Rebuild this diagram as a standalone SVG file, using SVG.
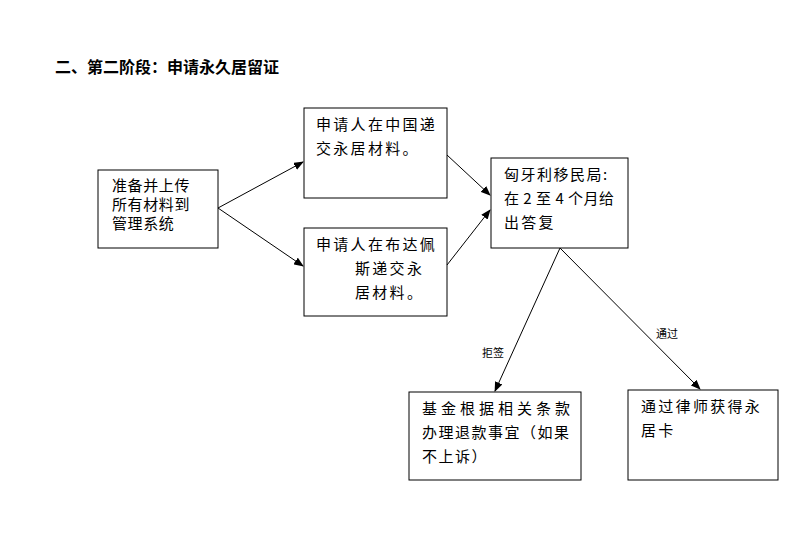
<svg xmlns="http://www.w3.org/2000/svg" width="806" height="551" viewBox="0 0 806 551">
<style>
.b{fill:#fff;stroke:#000;stroke-width:1}
.t{font-family:"Noto Sans CJK SC","Liberation Sans",sans-serif;font-size:15px;fill:#000;letter-spacing:2.3px}
.s{font-family:"Noto Sans CJK SC",sans-serif;font-size:11px;fill:#000}
.c{stroke:#000;stroke-width:1;fill:none;marker-end:url(#a)}
</style>
<defs><marker id="a" markerWidth="10" markerHeight="8" refX="9" refY="4" orient="auto" markerUnits="userSpaceOnUse"><path d="M0,0 L10,4 L0,8 z" fill="#000"/></marker></defs>
<rect width="806" height="551" fill="#fff"/>
<text x="55" y="73" font-family="Noto Sans CJK SC,sans-serif" font-size="16" font-weight="bold">二、第二阶段：申请永久居留证</text>
<g id="n1"><rect class="b" x="98" y="170" width="120" height="78"/><text class="t" x="112" y="191" style="letter-spacing:0.6px">准备并上传</text><text class="t" x="112" y="210" style="letter-spacing:0.6px">所有材料到</text><text class="t" x="112" y="229" style="letter-spacing:0.6px">管理系统</text></g>
<g id="n2"><rect class="b" x="304" y="108" width="143" height="90"/><text class="t" x="316" y="130">申请人在中国递</text><text class="t" x="316" y="154">交永居材料。</text></g>
<g id="n3"><rect class="b" x="304" y="228" width="143" height="88"/><text class="t" x="316" y="250">申请人在布达佩</text><text class="t" x="355" y="274">斯递交永</text><text class="t" x="355" y="298">居材料。</text></g>
<g id="n4"><rect class="b" x="491" y="158" width="137" height="90"/><text class="t" x="504" y="180" style="letter-spacing:1.5px">匈牙利移民局:</text><text class="t" x="504" y="204" style="letter-spacing:0.5px">在 2 至 4 个月给</text><text class="t" x="504" y="228">出答复</text></g>
<g id="n5"><rect class="b" x="409" y="392" width="172" height="88"/><text class="t" x="422" y="414" style="letter-spacing:4px">基金根据相关条款</text><text class="t" x="422" y="438" style="letter-spacing:1.5px">办理退款事宜（如果</text><text class="t" x="422" y="462" style="letter-spacing:1.5px">不上诉）</text></g>
<g id="n6"><rect class="b" x="628" y="390" width="150" height="90"/><text class="t" x="641" y="412">通过律师获得永</text><text class="t" x="641" y="436">居卡</text></g>
<g id="edges">
<line class="c" x1="218" y1="208" x2="303" y2="162"/>
<line class="c" x1="218" y1="208" x2="303" y2="266"/>
<line class="c" x1="447" y1="155" x2="490" y2="195"/>
<line class="c" x1="447" y1="265" x2="490" y2="210"/>
<line class="c" x1="560" y1="248" x2="495" y2="391"/>
<line class="c" x1="560" y1="248" x2="700" y2="389"/>
<text class="s" x="482" y="357">拒签</text>
<text class="s" x="656" y="338">通过</text>
</g>
</svg>
